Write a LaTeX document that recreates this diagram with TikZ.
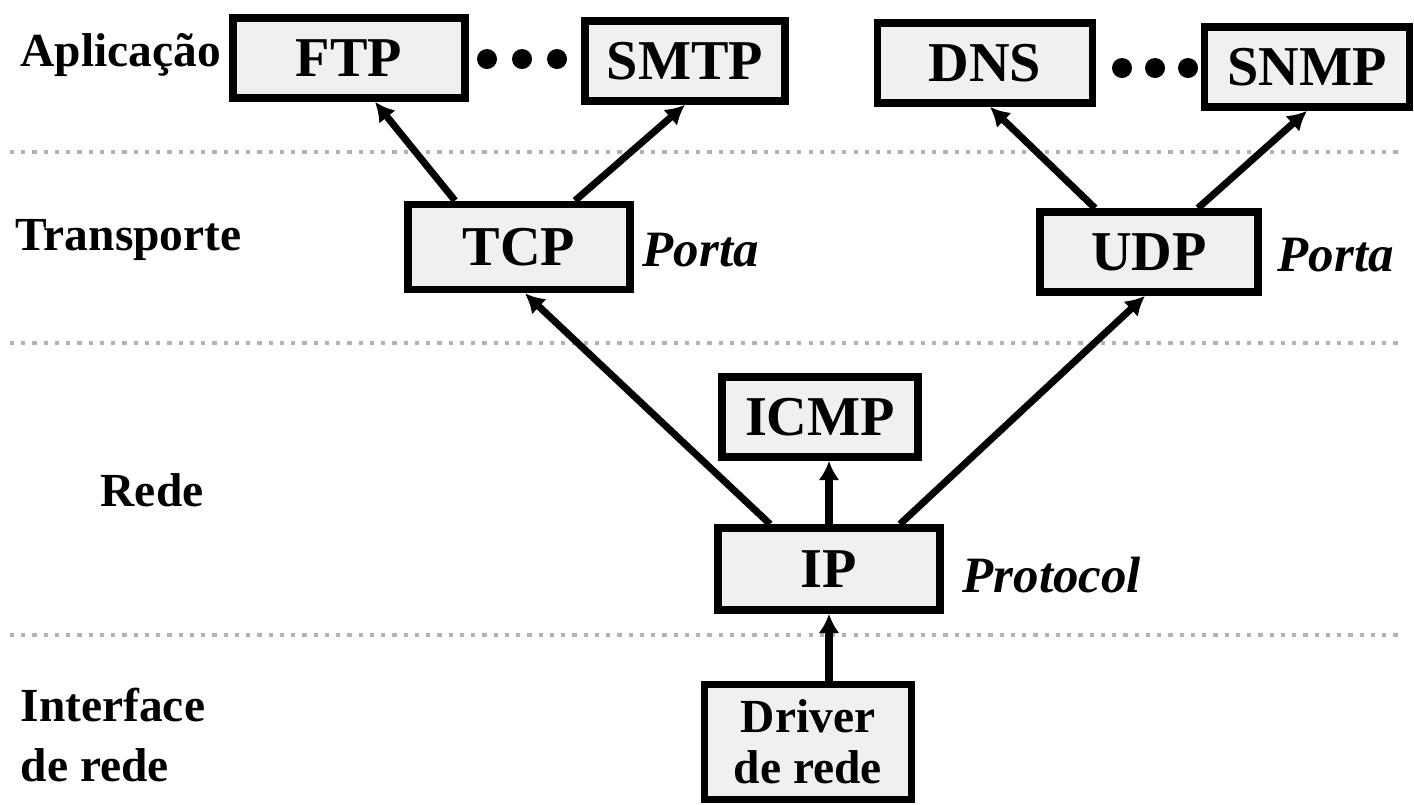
\documentclass[tikz,border=0pt]{standalone}
\usepackage{fontspec}
\setmainfont{Liberation Serif}
\usetikzlibrary{arrows.meta}

\begin{document}
\begin{tikzpicture}
	\tikzstyle{proto} = [rectangle,draw=black,line width=2.2pt,fill=gray!12,inner sep=0pt,minimum height=0.8cm,font=\fontsize{16}{18}\selectfont\bfseries]
	\tikzstyle{layer} = [anchor=west,align=left,inner sep=0pt,font=\fontsize{13.5}{17}\selectfont\bfseries]
	\tikzstyle{field} = [anchor=west,inner sep=0pt,font=\fontsize{14.5}{17}\selectfont\bfseries\itshape]
	\tikzstyle{link} = [line width=2pt,-{Latex[length=5.5pt,width=6pt]}]
	\tikzstyle{sep} = [gray!60,dotted,line width=1.2pt]
	\useasboundingbox (0,0) rectangle (14.14,8.04);
	% layer separators
	\foreach \y in {6.52,4.61,1.69}
		\draw[sep] (0.1,\y) -- (14.0,\y);
	% layer names
	\node[layer] (app) at (0.2, 7.49) {Aplicação};
	\node[layer] (trans) at (0.15, 5.64) {Transporte};
	\node[layer] (net) at (1.0, 3.14) {Rede};
	\node[layer] (iface) at (0.2, 0.69) {Interface\\de rede};
	% application layer
	\node[proto,minimum width=2.32cm] (ftp) at (3.49, 7.46) {FTP};
	\node[proto,minimum width=2.0cm] (smtp) at (6.85, 7.43) {SMTP};
	\node[proto,minimum width=2.15cm] (dns) at (9.85, 7.41) {DNS};
	\node[proto,minimum width=2.05cm] (snmp) at (13.07, 7.37) {SNMP};
	\foreach \x in {4.87,5.22,5.57}
		\fill (\x, 7.45) circle (0.1);
	\foreach \x in {11.22,11.55,11.88}
		\fill (\x, 7.36) circle (0.1);
	% transport layer
	\node[proto,minimum width=2.22cm,minimum height=0.85cm] (tcp) at (5.19, 5.57) {TCP};
	\node[proto,minimum width=2.18cm] (udp) at (11.49, 5.52) {UDP};
	\node[field] (porta1) at (6.42, 5.54) {Porta};
	\node[field] (porta2) at (12.77, 5.49) {Porta};
	% network layer
	\node[proto,minimum width=1.96cm] (icmp) at (8.20, 3.87) {ICMP};
	\node[proto,minimum width=2.22cm,minimum height=0.82cm] (ip) at (8.29, 2.35) {IP};
	\node[field] (protocol) at (9.62, 2.29) {Protocol};
	% network interface
	\node[proto,minimum width=2.07cm,minimum height=1.15cm,align=center,font=\fontsize{13.5}{14.5}\selectfont\bfseries] (driver) at (8.08, 0.62) {Driver\\de rede};
	% connections
	\draw[link] ([xshift=-0.64cm]tcp.north) -- ([xshift=0.26cm]ftp.south);
	\draw[link] ([xshift=0.56cm]tcp.north) -- (smtp.south);
	\draw[link] ([xshift=-0.54cm]udp.north) -- ([xshift=0.05cm]dns.south);
	\draw[link] ([xshift=0.49cm]udp.north) -- (snmp.south);
	\draw[link] ([xshift=-0.59cm]ip.north) -- ([xshift=0.06cm]tcp.south);
	\draw[link] ([xshift=0.71cm]ip.north) -- ([xshift=-0.04cm]udp.south);
	\draw[link] (ip.north) -- (ip.north |- icmp.south);
	\draw[link] (ip.south |- driver.north) -- (ip.south);
\end{tikzpicture}
\end{document}
